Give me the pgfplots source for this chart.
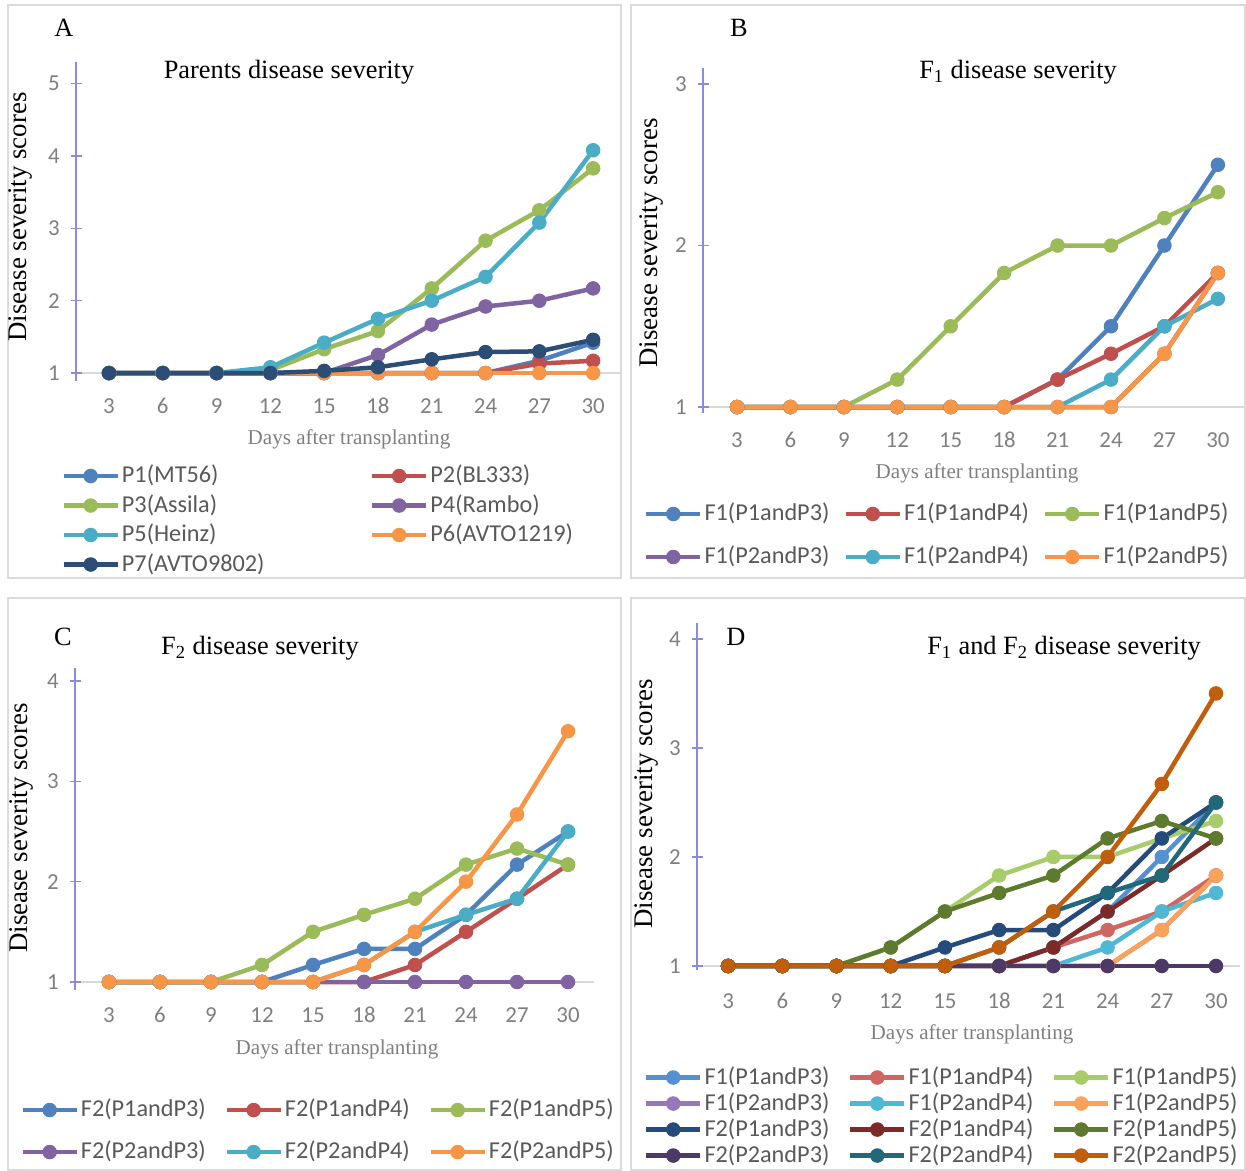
\documentclass[border=0pt]{standalone}
\usepackage{fontspec}
\setmainfont{Liberation Serif}
\setsansfont{Carlito}
\usepackage{pgfplots}
\usepackage{pgfplotstable}
\pgfplotsset{compat=1.18}

\definecolor{cA}{HTML}{4F81BD}
\definecolor{cB}{HTML}{C0504D}
\definecolor{cC}{HTML}{9BBB59}
\definecolor{cD}{HTML}{8064A2}
\definecolor{cE}{HTML}{4BACC6}
\definecolor{cF}{HTML}{F79646}
\definecolor{cG}{HTML}{2C4D75}
% panel D: lighter F1, darker F2
\definecolor{dA}{HTML}{5590D0}
\definecolor{dB}{HTML}{D06662}
\definecolor{dC}{HTML}{A8CC6A}
\definecolor{dD}{HTML}{9478BA}
\definecolor{dE}{HTML}{4FB8D4}
\definecolor{dF}{HTML}{F9A35A}
\definecolor{dG}{HTML}{254B7A}
\definecolor{dH}{HTML}{7C2A27}
\definecolor{dI}{HTML}{5E7A2E}
\definecolor{dJ}{HTML}{4C3966}
\definecolor{dK}{HTML}{21697A}
\definecolor{dL}{HTML}{C05E0C}
\definecolor{axisblue}{HTML}{8A8ADE}
\definecolor{gridgray}{HTML}{D9D9D9}
\definecolor{tickgray}{HTML}{7F7F7F}
\definecolor{leggray}{HTML}{595959}
\definecolor{bordergray}{HTML}{DADADA}

\newcommand\tickfont{\sffamily\fontsize{13}{15}\selectfont}
\newcommand\legfont{\sffamily\fontsize{13.8}{16}\selectfont}
\newcommand\ttlfont{\rmfamily\fontsize{15}{18}\selectfont}
\newcommand\ylabfont{\rmfamily\fontsize{15.3}{18}\selectfont}
\newcommand\xlabfont{\rmfamily\fontsize{12}{14}\selectfont}

% parents
\pgfplotstableread{
day P1   P2   P3   P4   P5   P6 P7
3   1    1    1    1    1    1  1
6   1    1    1    1    1    1  1
9   1    1    1    1    1    1  1
12  1    1    1.04 1    1.08 1  1
15  1    1    1.33 1    1.42 1  1.03
18  1    1    1.58 1.25 1.75 1  1.08
21  1    1    2.17 1.67 2.00 1  1.19
24  1    1    2.83 1.92 2.33 1  1.29
27  1.17 1.13 3.25 2.00 3.08 1  1.30
30  1.42 1.17 3.83 2.17 4.08 1  1.46
}\tabA

% F1
\pgfplotstableread{
day a    b    c    d    e    f
3   1    1    1    1    1    1
6   1    1    1    1    1    1
9   1    1    1    1    1    1
12  1    1    1.17 1    1    1
15  1    1    1.50 1    1    1
18  1    1    1.83 1    1    1
21  1.17 1.17 2.00 1    1    1
24  1.50 1.33 2.00 1    1.17 1
27  2.00 1.50 2.17 1.33 1.50 1.33
30  2.50 1.83 2.33 1.83 1.67 1.83
}\tabB

% F2
\pgfplotstableread{
day a    b    c    d  e    f
3   1    1    1    1  1    1
6   1    1    1    1  1    1
9   1    1    1    1  1    1
12  1    1    1.17 1  1    1
15  1.17 1    1.50 1  1    1
18  1.33 1    1.67 1  1.17 1.17
21  1.33 1.17 1.83 1  1.50 1.50
24  1.67 1.50 2.17 1  1.67 2.00
27  2.17 1.83 2.33 1  1.83 2.67
30  2.50 2.17 2.17 1  2.50 3.50
}\tabC

\pgfplotsset{
  panel/.style={
    scale only axis,
    clip=false,
    axis lines*=left,
    x axis line style={draw=none},
    y axis line style={draw=axisblue, line width=0.3mm},
    xtick={3,6,...,30},
    xtick style={draw=none},
    ytick style={draw=axisblue, line width=0.3mm},
    tick align=center,
    major tick length=2.2mm,
    /pgf/number format/assume math mode=true,
    tick label style={font=\tickfont, text=tickgray, inner sep=0pt},
    yticklabel shift=2.1mm,
    extra y ticks={1},
    extra y tick labels={},
    extra y tick style={grid=major, major grid style={draw=gridgray, line width=0.4mm}},
    every axis plot/.append style={line width=0.9mm, mark=*, mark size=1.35mm,
      mark options={solid, line width=0.2mm}},
    legend image code/.code={\draw[mark repeat=2,mark phase=2,##1]
      plot coordinates {(0mm,0mm) (5.4mm,0mm) (10.8mm,0mm)};},
    legend style={draw=none, fill=none, inner sep=0pt, outer sep=0pt,
      column sep=0pt, anchor=north west, font=\legfont, text=leggray,
      nodes={inner sep=0pt, align=left, text height=3.6mm, text depth=1mm},
      /tikz/every odd column/.append style={column sep=0.4mm}},
  },
}

\begin{document}
\begin{tikzpicture}
\begin{scope}[x=0.2mm, y=-0.2mm]
\draw[bordergray, line width=0.4mm] (8,5) rectangle (621,578);
\draw[bordergray, line width=0.4mm] (631,5) rectangle (1245,578);
\draw[bordergray, line width=0.4mm] (8,598) rectangle (621,1170);
\draw[bordergray, line width=0.4mm] (631,598) rectangle (1245,1170);
\end{scope}

% A
\begin{axis}[panel, at={(15.2mm,-76.2mm)}, anchor=south west,
  width=108.8mm, height=63.8mm,
  xmin=1.16, xmax=31.5, ymin=0.89, ymax=5.30, ytick={1,2,3,4,5},
  xticklabel shift=2.3mm,
  legend columns=2,
  legend style={at={(-0.0268,-0.2618)}, nodes={text width=49.6mm}, row sep=1.3mm}]
\addplot[cA] table[x=day,y=P1]{\tabA};
\addplot[cB] table[x=day,y=P2]{\tabA};
\addplot[cC] table[x=day,y=P3]{\tabA};
\addplot[cD] table[x=day,y=P4]{\tabA};
\addplot[cE] table[x=day,y=P5]{\tabA};
\addplot[cF] table[x=day,y=P6]{\tabA};
\addplot[cG] table[x=day,y=P7]{\tabA};
\legend{P1(MT56),P2(BL333),P3(Assila),P4(Rambo),P5(Heinz),P6(AVTO1219),P7(AVTO9802)}
\end{axis}

% B
\begin{axis}[panel, at={(140.6mm,-82.6mm)}, anchor=south west,
  width=108.2mm, height=69mm,
  xmin=1.09, xmax=31.47, ymin=0.963, ymax=3.099, ytick={1,2,3},
  xticklabel shift=2.7mm,
  legend columns=3,
  legend style={at={(-0.109,-0.2594)}, nodes={text width=27.8mm}, row sep=4mm}]
\addplot[cA] table[x=day,y=a]{\tabB};
\addplot[cB] table[x=day,y=b]{\tabB};
\addplot[cC] table[x=day,y=c]{\tabB};
\addplot[cD] table[x=day,y=d]{\tabB};
\addplot[cE] table[x=day,y=e]{\tabB};
\addplot[cF] table[x=day,y=f]{\tabB};
\legend{F1(P1andP3),F1(P1andP4),F1(P1andP5),F1(P2andP3),F1(P2andP4),F1(P2andP5)}
\end{axis}

% C
\begin{axis}[panel, at={(15.0mm,-198.0mm)}, anchor=south west,
  width=103.8mm, height=64.4mm,
  xmin=1.0, xmax=31.53, ymin=0.92, ymax=4.13, ytick={1,2,3,4},
  xticklabel shift=2.3mm,
  legend columns=3,
  legend style={at={(-0.1052,-0.337)}, nodes={text width=28.7mm}, row sep=3.8mm}]
\addplot[cA] table[x=day,y=a]{\tabC};
\addplot[cB] table[x=day,y=b]{\tabC};
\addplot[cC] table[x=day,y=c]{\tabC};
\addplot[cD] table[x=day,y=d]{\tabC};
\addplot[cE] table[x=day,y=e]{\tabC};
\addplot[cF] table[x=day,y=f]{\tabC};
\legend{F2(P1andP3),F2(P1andP4),F2(P1andP5),F2(P2andP3),F2(P2andP4),F2(P2andP5)}
\end{axis}

% D
\begin{axis}[panel, at={(139.4mm,-194.0mm)}, anchor=south west,
  width=108.6mm, height=69.4mm,
  xmin=1.28, xmax=31.33, ymin=0.963, ymax=4.146, ytick={1,2,3,4},
  xticklabel shift=3.5mm,
  legend columns=3,
  legend style={at={(-0.0976,-0.2767)}, nodes={text width=28.7mm}, row sep=0.6mm}]
\addplot[dA] table[x=day,y=a]{\tabB};
\addplot[dB] table[x=day,y=b]{\tabB};
\addplot[dC] table[x=day,y=c]{\tabB};
\addplot[dD] table[x=day,y=d]{\tabB};
\addplot[dE] table[x=day,y=e]{\tabB};
\addplot[dF] table[x=day,y=f]{\tabB};
\addplot[dG] table[x=day,y=a]{\tabC};
\addplot[dH] table[x=day,y=b]{\tabC};
\addplot[dI] table[x=day,y=c]{\tabC};
\addplot[dJ] table[x=day,y=d]{\tabC};
\addplot[dK] table[x=day,y=e]{\tabC};
\addplot[dL] table[x=day,y=f]{\tabC};
\legend{F1(P1andP3),F1(P1andP4),F1(P1andP5),F1(P2andP3),F1(P2andP4),F1(P2andP5),
  F2(P1andP3),F2(P1andP4),F2(P1andP5),F2(P2andP3),F2(P2andP4),F2(P2andP5)}
\end{axis}

% texts
\begin{scope}[x=0.2mm, y=-0.2mm]
\node[font=\ttlfont] at (64,28) {A};
\node[font=\ttlfont] at (289,72) {Parents disease severity};
\node[font=\xlabfont, text=tickgray] at (349,439) {Days after transplanting};
\node[font=\ylabfont, rotate=90] at (20,217) {Disease severity scores};

\node[font=\ttlfont] at (739,28) {B};
\node[font=\ttlfont] at (1018,72) {F\textsubscript{1} disease severity};
\node[font=\xlabfont, text=tickgray] at (977,473) {Days after transplanting};
\node[font=\ylabfont, rotate=90] at (651,243) {Disease severity scores};

\node[font=\ttlfont] at (63,637) {C};
\node[font=\ttlfont] at (260,648) {F\textsubscript{2} disease severity};
\node[font=\xlabfont, text=tickgray] at (337,1049) {Days after transplanting};
\node[font=\ylabfont, rotate=90] at (21,828) {Disease severity scores};

\node[font=\ttlfont] at (736,637) {D};
\node[font=\ttlfont] at (1064,648) {F\textsubscript{1} and F\textsubscript{2} disease severity};
\node[font=\xlabfont, text=tickgray] at (972,1034) {Days after transplanting};
\node[font=\ylabfont, rotate=90] at (646,804) {Disease severity scores};

\pgfresetboundingbox
\path[use as bounding box] (0,0) rectangle (1246,1171);
\end{scope}
\end{tikzpicture}
\end{document}
